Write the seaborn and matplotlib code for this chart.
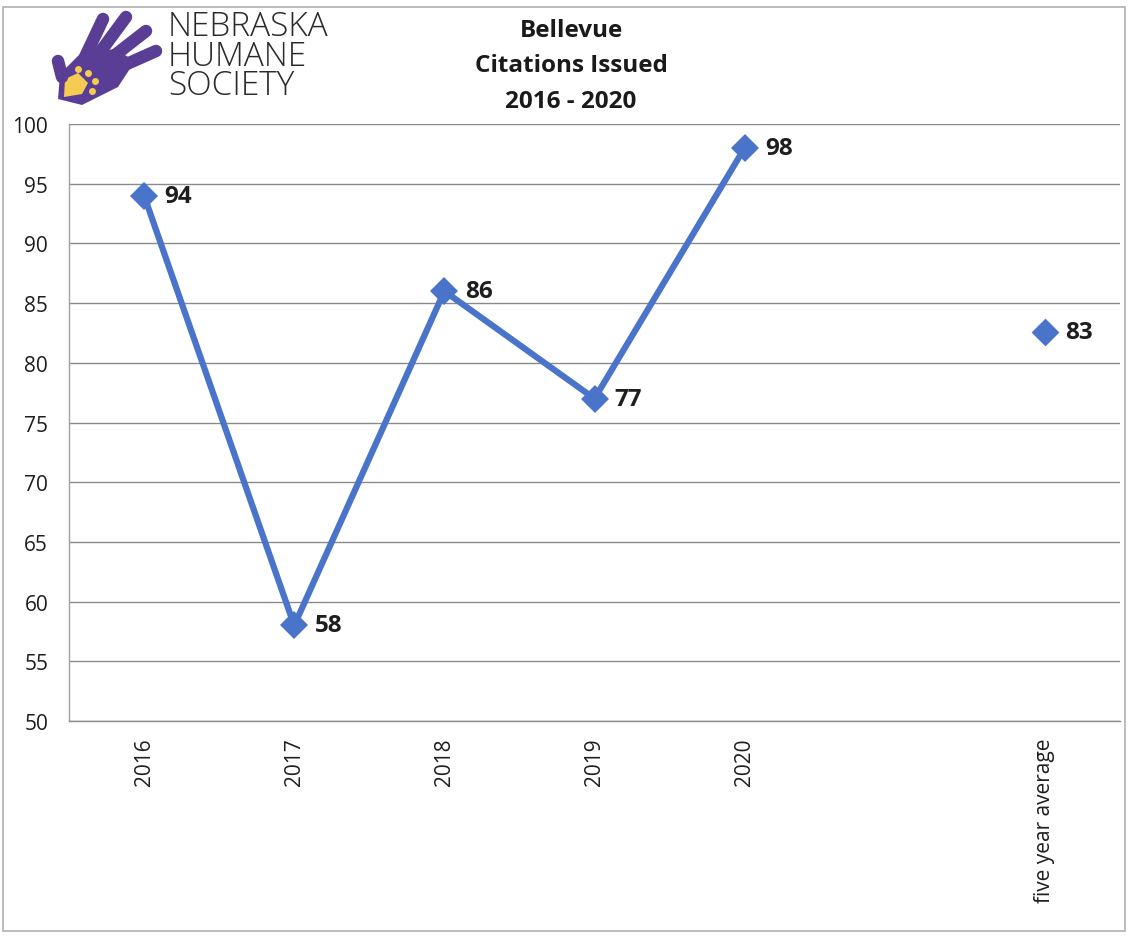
import matplotlib
matplotlib.use("Agg")
import matplotlib.pyplot as plt
import seaborn as sns
import pandas as pd
from matplotlib.patches import Polygon, Rectangle
from matplotlib.lines import Line2D

# ---- data ----
categories = ["2016", "2017", "2018", "2019", "2020", "", "five year average"]
years = ["2016", "2017", "2018", "2019", "2020"]
citations = [94, 58, 86, 77, 98]
avg_label = "five year average"
avg_value = 82.6
avg_text = "83"
title_lines = ["Bellevue", "Citations Issued", "2016 - 2020"]
logo_lines = ["NEBRASKA", "HUMANE", "SOCIETY"]

W, H = 1128, 937
sns.set_theme(style="white")
plt.rcParams["font.family"] = ["Open Sans", "DejaVu Sans"]

fig = plt.figure(figsize=(W / 100, H / 100), dpi=100)
ax = fig.add_axes([69 / W, 1 - 722 / H, (1120 - 69) / W, (722 - 125) / H])

pos = {c: i for i, c in enumerate(categories)}
df = pd.DataFrame({"x": [pos[y] for y in years], "v": citations})
dfa = pd.DataFrame({"x": [pos[avg_label]], "v": [avg_value]})

color = "#4A74C9"
sns.lineplot(data=df, x="x", y="v", ax=ax, color=color, linewidth=4.5,
             marker="D", markersize=14, markeredgewidth=0, zorder=3)
sns.scatterplot(data=dfa, x="x", y="v", ax=ax, color=color, marker="D",
                s=200, linewidth=0, zorder=3)

for xv, yv in zip(df["x"], df["v"]):
    ax.text(xv + 0.135, yv, f"{yv}", va="center", ha="left", fontsize=17.5,
            fontweight="bold", color="#1e1e1e")
ax.text(dfa["x"][0] + 0.135, avg_value, avg_text, va="center", ha="left",
        fontsize=17.5, fontweight="bold", color="#1e1e1e")

ax.set_xlim(-0.5, len(categories) - 0.5)
ax.set_ylim(50, 100)
ax.set_yticks(range(50, 101, 5))
ax.set_xticks(range(len(categories)))
ax.set_xticklabels(categories, rotation=90, fontsize=15, color="#1e1e1e")
ax.tick_params(axis="y", labelsize=15, colors="#1e1e1e", length=0, pad=15)
ax.tick_params(axis="x", length=0, pad=12)
ax.set_xlabel("")
ax.set_ylabel("")
ax.grid(axis="y", color="#8a8a8a", linewidth=1.0)
ax.grid(axis="x", visible=False)
ax.set_axisbelow(True)
for s in ["top", "right"]:
    ax.spines[s].set_visible(False)
ax.spines["left"].set_color("#a0a0a0")
ax.spines["bottom"].set_color("#8a8a8a")
ax.spines["left"].set_linewidth(1.0)
ax.spines["bottom"].set_linewidth(1.0)


def px(x, y):
    return (x / W, 1 - y / H)


# title
for i, t in enumerate(title_lines):
    fig.text(*px(571, 31 + i * 35.5), t, ha="center", va="center",
             fontsize=17.5, fontweight="bold", color="#1a1a1a")

# logo text
fig.text(*px(168, 57), "\n".join(logo_lines), ha="left", va="center",
         fontsize=24, fontweight="light", color="#2a2a2a", linespacing=0.84)

# simple hand logo
purple = "#5A3E95"
palm = [px(58, 100), px(60, 75), px(80, 55), px(115, 50), px(135, 62),
        px(118, 88), px(82, 106)]
fig.add_artist(Polygon(palm, closed=True, transform=fig.transFigure,
                       facecolor=purple, edgecolor="none"))
fingers = [((85, 58), (103, 20)), ((98, 56), (126, 18)),
           ((110, 60), (146, 32)), ((120, 68), (156, 52)),
           ((62, 78), (58, 62))]
for (x0, y0), (x1, y1) in fingers:
    a, b = px(x0, y0), px(x1, y1)
    fig.add_artist(Line2D([a[0], b[0]], [a[1], b[1]], transform=fig.transFigure,
                          color=purple, linewidth=9, solid_capstyle="round"))
yellow = "#F5CB52"
small = [px(64, 98), px(65, 80), px(78, 74), px(88, 84), px(82, 95)]
fig.add_artist(Polygon(small, closed=True, transform=fig.transFigure,
                       facecolor=yellow, edgecolor="none"))
for (cx, cy) in [(78, 70), (88, 74), (95, 82), (92, 92)]:
    fig.add_artist(Line2D([cx / W], [1 - cy / H], transform=fig.transFigure,
                          marker="o", markersize=5, color=yellow,
                          markeredgewidth=0))

# outer frame
fig.add_artist(Rectangle(px(3, 932), (1122) / W, (924) / H, transform=fig.transFigure,
                         fill=False, edgecolor="#b0b0b0", linewidth=1.2))

fig.savefig("out.png", dpi=100)
